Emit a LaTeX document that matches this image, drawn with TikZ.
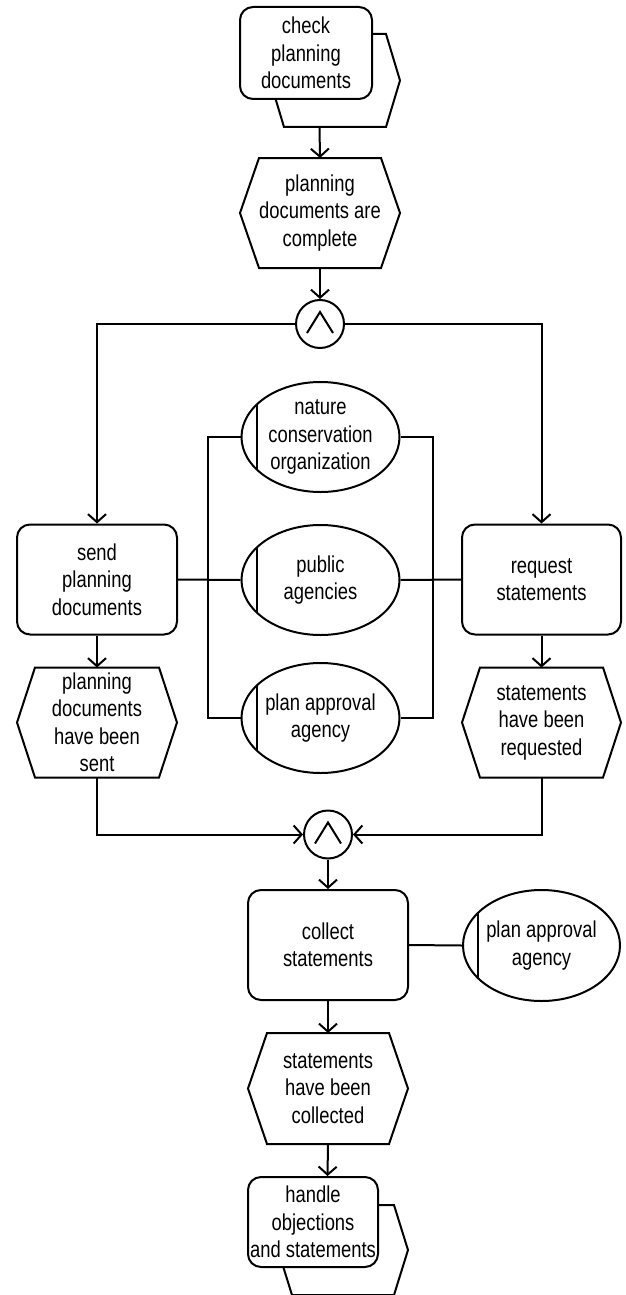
\documentclass[tikz,border=0pt]{standalone}
\usepackage{fontspec}
\setmainfont{Liberation Sans}[FakeStretch=0.8]
\usetikzlibrary{shapes.geometric,arrows.meta,fit}
\tikzset{
  txt/.style={font=\fontsize{23}{27.5}\selectfont, align=center, inner sep=0pt},
  evt/.style={txt, outer sep=0pt, minimum width=160pt, minimum height=110pt},
  hexbox/.style={outer sep=0pt, inner sep=0pt},
  func/.style={txt, draw, fill=white, rounded corners=13pt, minimum width=160pt, minimum height=110pt},
  org/.style={txt, draw, ellipse, minimum width=158pt, minimum height=110pt,
    path picture={\draw ([xshift=15pt]path picture bounding box.south west) -- ([xshift=15pt]path picture bounding box.north west);}},
  andc/.style={draw, circle, minimum size=48pt, inner sep=0pt},
  arr/.style={-{Straight Barb[length=8pt,width=18pt]}},
  conn/.style={},
}
\newcommand\evshape[2]{\draw (#1.west) -- ([xshift=#2]#1.north west) -- ([xshift=-#2]#1.north east) -- (#1.east) -- ([xshift=-#2]#1.south east) -- ([xshift=#2]#1.south west) -- cycle;}
\newcommand\andsign[1]{\draw ([shift={(-13,9)}]#1.center) -- ([shift={(0,-12)}]#1.center) -- ([shift={(13,9)}]#1.center);}
\begin{document}
\begin{tikzpicture}[x=1pt,y=-1pt,line width=2pt]
\useasboundingbox (0,0) rectangle (626,1295);
% top function with process interface
\node[hexbox, minimum width=130pt, minimum height=93pt] (f1h) at (335,80.5) {};
\evshape{f1h}{14pt}
\node[func, minimum width=132pt, minimum height=92pt] (f1r) at (306,53) {check\\planning\\documents};
\node[fit=(f1h)(f1r), inner sep=0pt, outer sep=0pt] (f1) {};
% event 1
\node[evt] (e1) at (320,213) {planning\\documents are\\complete};
\evshape{e1}{19pt}
% and 1
\node[andc] (and1) at (320,324) {};
\andsign{and1}
% functions
\node[func] (p1) at (97,579.5) {send\\planning\\documents};
\node[func, minimum width=159pt] (p2) at (541.5,579.5) {request\\statements};
% events
\node[evt] (e2) at (97,722.5) {planning\\documents\\have been\\sent};
\evshape{e2}{18pt}
\node[evt, minimum width=159pt] (e3) at (541.5,722.5) {statements\\have been\\requested};
\evshape{e3}{18pt}
% organisation units
\node[org] (o1) at (320.5,437) {nature\\conservation\\organization};
\node[org] (o2) at (320.5,580) {public\\agencies};
\node[org] (o3) at (320.5,718) {plan approval\\agency};
% and 2
\node[andc] (and2) at (328,834.5) {};
\andsign{and2}
% collect
\node[func] (p3) at (328,945) {collect\\statements};
\node[org, minimum width=157pt, minimum height=111pt] (o4) at (541.5,945.5) {plan approval\\agency};
% event 4
\node[evt, minimum height=111pt] (e4) at (328,1088.5) {statements\\have been\\collected};
\evshape{e4}{19pt}
% bottom function with process interface
\node[hexbox, minimum width=130pt, minimum height=90pt] (f2h) at (343,1250) {};
\evshape{f2h}{14pt}
\node[func, minimum width=130pt, minimum height=90pt] (f2r) at (313,1222) {handle\\objections\\and statements};
\node[fit=(f2h)(f2r), inner sep=0pt, outer sep=0pt] (f2) {};
% connectors
\draw[arr] (f1.south) -- (e1.north);
\draw[arr] (e1.south) -- (and1.north);
\draw[arr] (and1.west) -| (p1.north);
\draw[arr] (and1.east) -| (p2.north);
\draw[arr] (p1.south) -- (e2.north);
\draw[arr] (p2.south) -- (e3.north);
\draw[arr] (e2.south) |- (and2.west);
\draw[arr] (e3.south) |- (and2.east);
\draw[arr] (and2.south) -- (p3.north);
\draw[arr] (p3.south) -- (e4.north);
\draw[arr] (e4.south) -- (f2.north);
\draw[conn] (p1.east) -- (o2.west);
\draw[conn] (o2.east) -- (p2.west);
\draw[conn] (o1.west) -- ++(-33,0) |- (o3.west);
\draw[conn] (o1.east) -- ++(32,0) |- (o3.east);
\draw[conn] (p3.east) -- (o4.west);
\end{tikzpicture}
\end{document}
